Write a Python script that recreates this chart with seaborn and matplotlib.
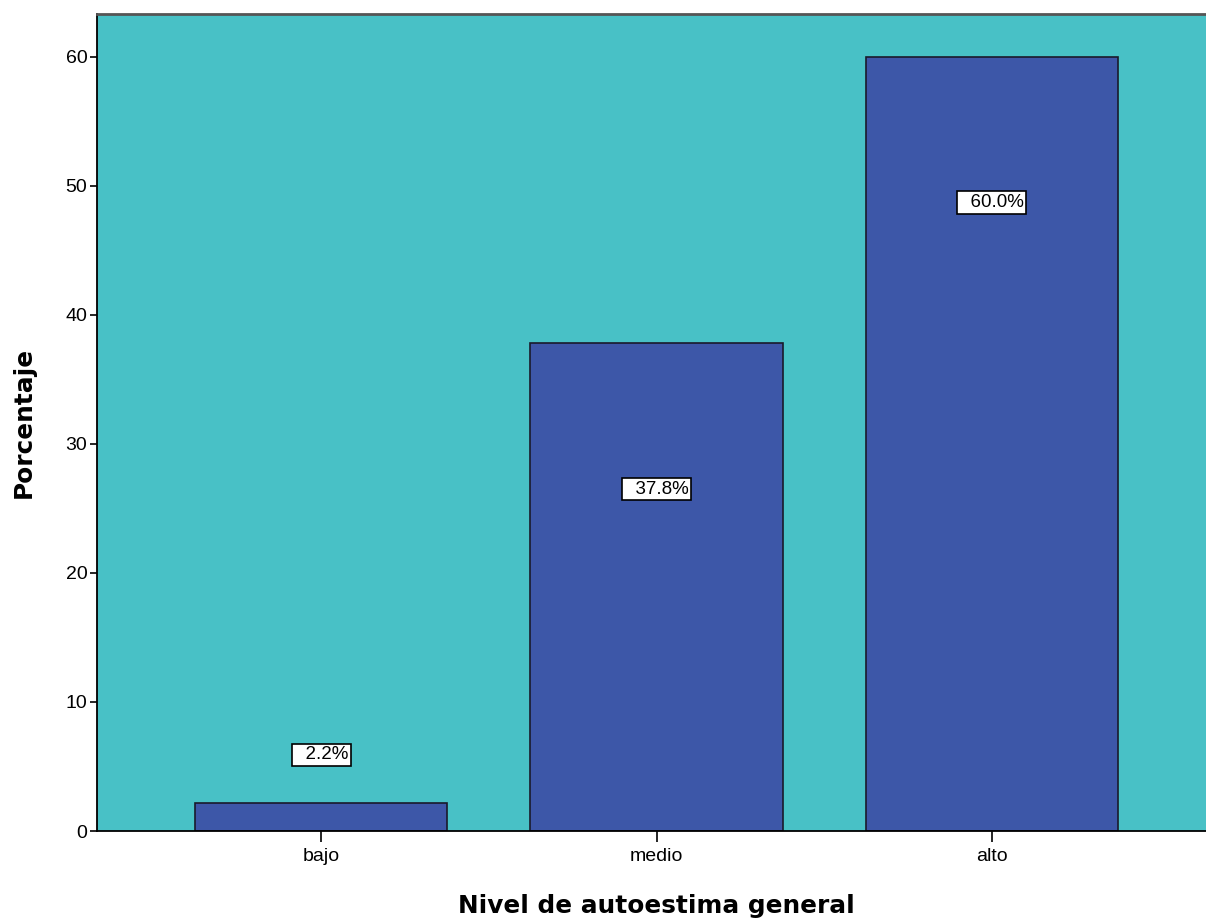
import matplotlib
matplotlib.use("Agg")
import matplotlib.pyplot as plt
import seaborn as sns
import pandas as pd

categories = ["bajo", "medio", "alto"]
percentages = [2.2, 37.8, 60.0]
label_texts = ["2.2%", "37.8%", "60.0%"]
y_ticks = [0, 10, 20, 30, 40, 50, 60]

sns.set_theme(style="white")
plt.rcParams['font.family'] = ['Liberation Sans', 'DejaVu Sans']

W, H = 1206, 922
fig = plt.figure(figsize=(W / 100, H / 100), dpi=100)
ax = fig.add_axes([97 / W, 1 - 831 / H, (1216 - 97) / W, (831 - 14) / H])

df = pd.DataFrame({"cat": categories, "pct": percentages})
sns.barplot(data=df, x="cat", y="pct", color="#3D57A8", saturation=1,
            edgecolor="#1a1a2a", linewidth=1.2, width=0.752, ax=ax)

ax.set_facecolor("#48C1C6")
ax.set_xlim(-0.669, 2.669)
ax.set_ylim(0, 63.33)
ax.set_yticks(y_ticks)
ax.set_yticklabels([str(t) for t in y_ticks])

for i, (v, t) in enumerate(zip(percentages, label_texts)):
    ypos = v - 11.3 if v > 15 else v + 3.7
    ax.text(i, ypos, "  " + t, ha="center", va="center", fontsize=13.5, color="black",
            bbox=dict(boxstyle="square,pad=0.15", fc="white", ec="black", lw=1.2))

for s in ["left", "bottom"]:
    ax.spines[s].set_color("black")
    ax.spines[s].set_linewidth(1.3)
ax.spines["top"].set_color("#555555")
ax.spines["top"].set_linewidth(2)
ax.spines["right"].set_visible(False)

ax.tick_params(axis="y", which="both", left=True, length=5, width=1.2, color="black",
               labelsize=14, labelcolor="black", pad=2)
ax.tick_params(axis="x", which="both", bottom=True, length=8, width=1.2, color="black",
               labelsize=14, labelcolor="black", pad=4)

ax.set_xlabel("Nivel de autoestima general", fontsize=17.8, fontweight="bold",
              family=["DejaVu Sans"], color="black", labelpad=21)
ax.set_ylabel("Porcentaje", fontsize=17.8, fontweight="bold", family=["DejaVu Sans"],
              color="black", labelpad=21)

fig.savefig("out.png", dpi=100)
